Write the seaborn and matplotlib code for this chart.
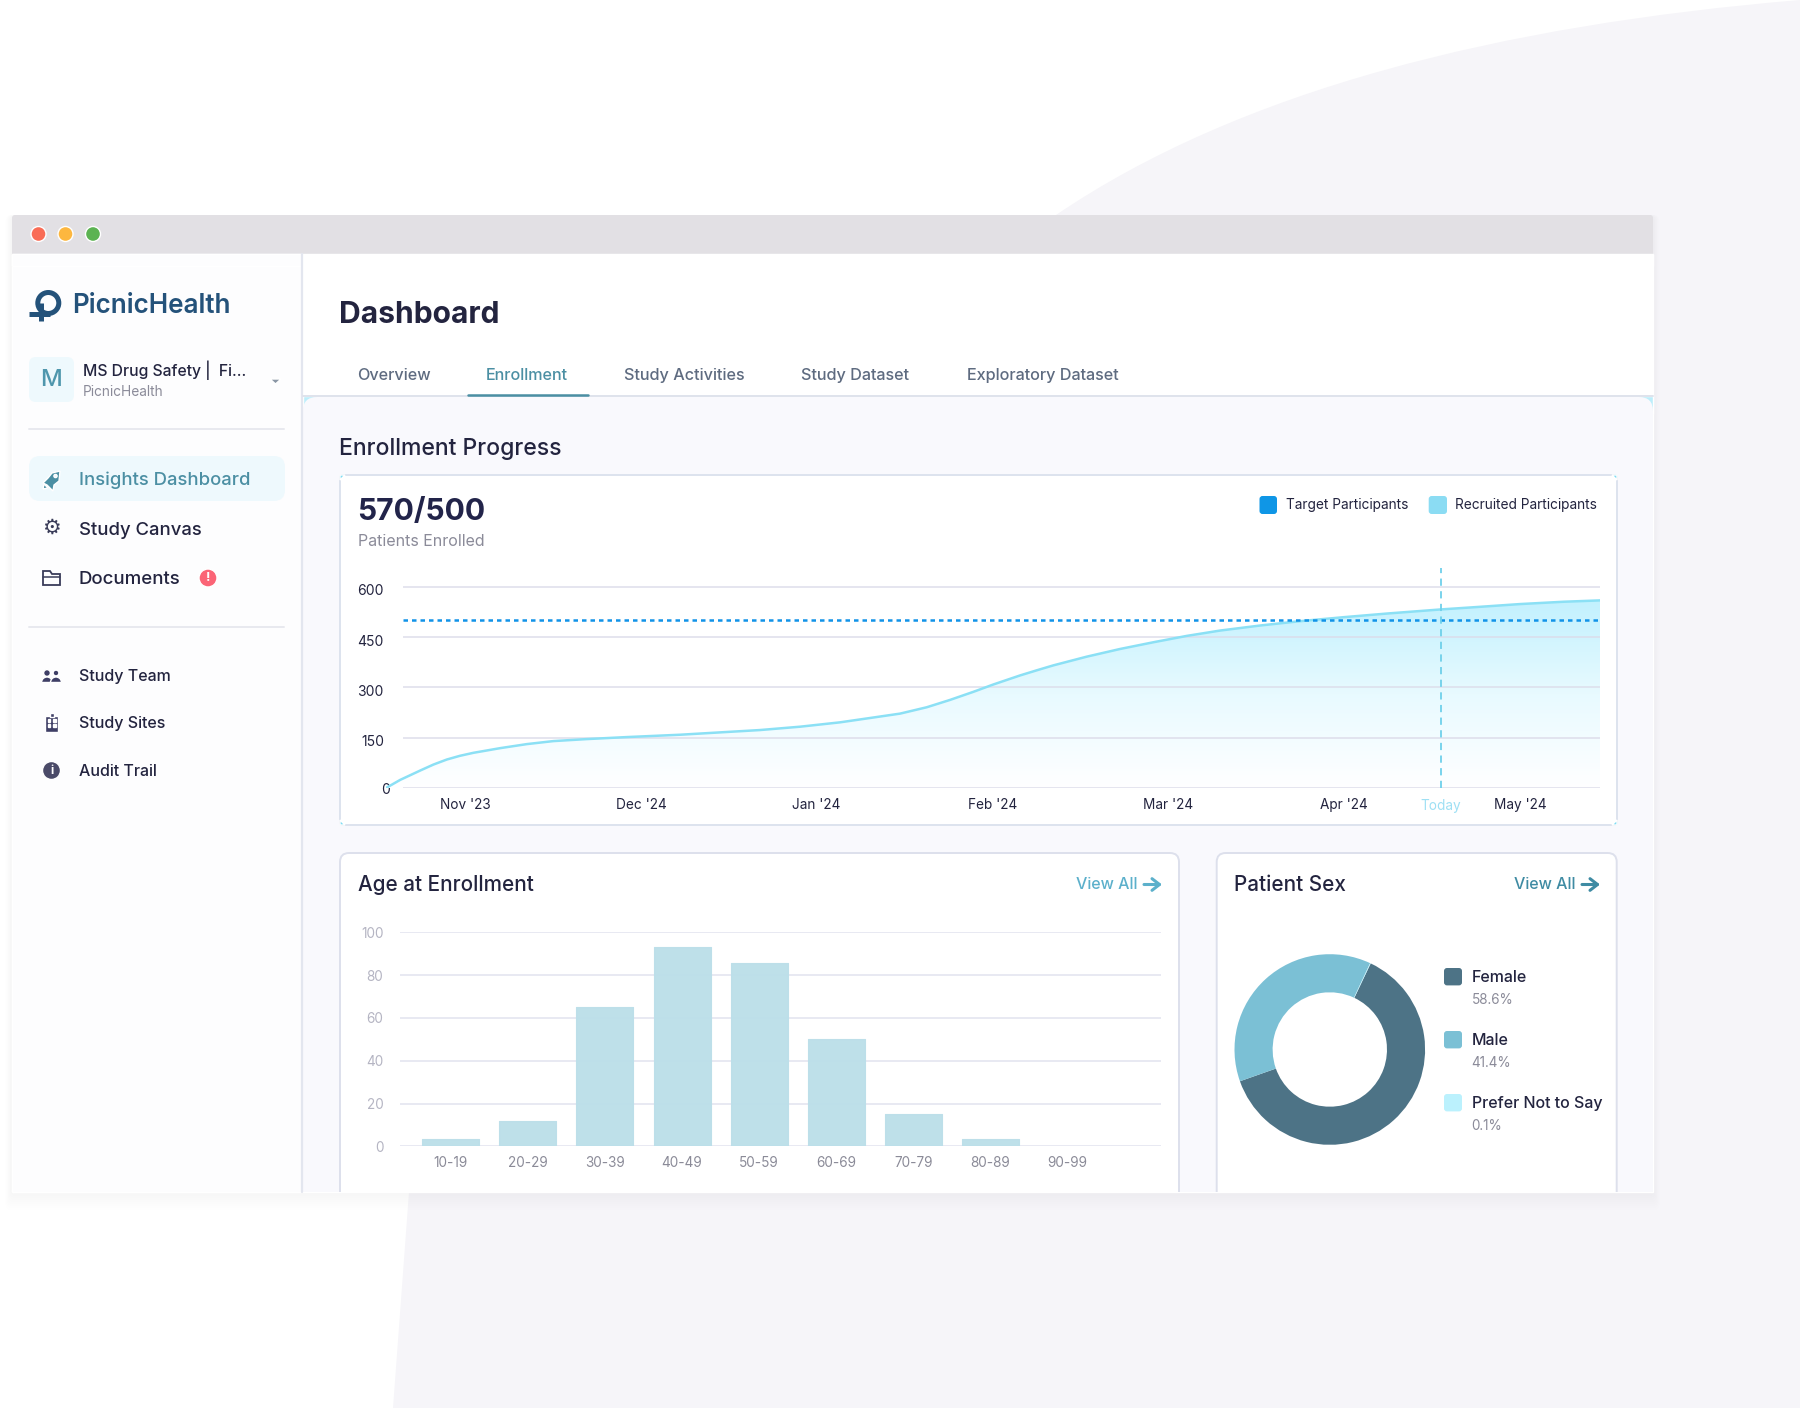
import numpy as np
import matplotlib
matplotlib.use("Agg")
import matplotlib.pyplot as plt
import seaborn as sns
from matplotlib.colors import LinearSegmentedColormap
from matplotlib.patches import Circle, FancyBboxPatch, PathPatch, Polygon, Rectangle, Wedge
from matplotlib.path import Path
from matplotlib.transforms import ScaledTranslation

# Enrollment curve (x in months from Nov '23)
month_pos = [-0.45, -0.37, -0.256, -0.18, -0.104, -0.03, 0.047, 0.2, 0.351, 0.502, 0.692, 0.92, 1.223, 1.45, 1.678,
             1.906, 2.133, 2.304, 2.474, 2.626, 2.759, 2.891, 3.005, 3.157, 3.25, 3.346, 3.536, 3.726, 3.915, 4.105,
             4.295, 4.522, 4.75, 5.0, 5.25, 5.55, 5.75, 6.0, 6.25, 6.456]
recruited = [0, 24, 52, 70, 85, 96, 105, 119, 131, 140, 146, 152, 159, 166, 173,
             183, 196, 209, 222, 241, 263, 287, 309, 336, 351, 366, 392, 415, 435, 454,
             470, 485, 498, 510, 521, 533, 540, 549, 556, 560]
target = 500
today_pos = 5.55
month_labels = ["Nov '23", "Dec '24", "Jan '24", "Feb '24", "Mar '24", "Apr '24", "May '24"]
enroll_ticks = [0, 150, 300, 450, 600]

# Age bars
age_groups = ["10-19", "20-29", "30-39", "40-49", "50-59", "60-69", "70-79", "80-89", "90-99"]
age_counts = [3.5, 12, 65, 93, 85.6, 50, 15, 3.5, 0]
age_ticks = [0, 20, 40, 60, 80, 100]

# Donut: arcs as measured in the picture, they differ from the printed percentages
sex_names = ["Female", "Male", "Prefer Not to Say"]
sex_printed = ["58.6%", "41.4%", "0.1%"]
sex_arcs = [62.6, 37.4, 0.1]
sex_colors = ["#4d7386", "#7bc0d5", "#bbf1fd"]

W, H = 1800, 1408
NAVY = "#23243f"
TEAL = "#4b8fa3"
GREY = "#8b8b99"
WIN_BOTTOM = 1192

sns.set_theme(style="white")
plt.rcParams["font.family"] = ["Inter", "DejaVu Sans"]

fig = plt.figure(figsize=(18, 14.08), dpi=100, facecolor="white")

# Pixel canvas for everything around the charts
bg = fig.add_axes([0, 0, 1, 1], zorder=0)
bg.set_xlim(0, W)
bg.set_ylim(H, 0)
bg.axis("off")


def px_axes(left, top, right, bottom):
    ax = fig.add_axes([left / W, 1 - bottom / H, (right - left) / W, (bottom - top) / H], zorder=2)
    ax.patch.set_alpha(0)
    return ax


def label(x, y, s, px, color=NAVY, weight="normal", ha="left"):
    # va=center sits a little high with Inter, push it down with the size
    return bg.text(x, y + px * 0.1, s, fontsize=px * 0.72, color=color, fontweight=weight, ha=ha, va="center")


def box(x0, y0, x1, y1, radius, color, edge="none", lw=0, z=1, clip=None):
    patch = FancyBboxPatch((x0, y0), x1 - x0, y1 - y0, boxstyle=f"round,pad=0,rounding_size={radius}",
                           facecolor=color, edgecolor=edge, linewidth=lw, zorder=z)
    bg.add_patch(patch)
    if clip is not None:
        patch.set_clip_path(clip)
    return patch


def shift_label(lab, dx, dy):
    lab.set_transform(lab.get_transform() + ScaledTranslation(dx / 100, dy / 100, fig.dpi_scale_trans))


# Lavender shape behind the window
blob = Path([(1800, 0), (1500, 25), (1240, 90), (1056, 215), (409, WIN_BOTTOM), (393, 1408), (1800, 1408), (1800, 0)],
            [Path.MOVETO, Path.CURVE4, Path.CURVE4, Path.CURVE4, Path.LINETO, Path.LINETO, Path.LINETO, Path.CLOSEPOLY])
bg.add_patch(PathPatch(blob, facecolor="#f6f5f9", edgecolor="none", zorder=0.1))

# Soft window shadow
for grow in range(18, 0, -2):
    box(12 - grow * 0.35, 215, 1653 + grow * 0.35, WIN_BOTTOM + grow, 6, "#8a8a9a", z=0.2).set_alpha(0.009)

# Window, title bar, sidebar
window = Rectangle((12, 215), 1641, WIN_BOTTOM - 215, transform=bg.transData)
bg.add_patch(Rectangle((12, 254), 1641, WIN_BOTTOM - 254, facecolor="white", zorder=0.5))
bg.add_patch(Rectangle((12, 254), 290, WIN_BOTTOM - 254, facecolor="#fdfdfe", zorder=0.55))
box(12, 215, 1653, 262, 3, "#e2e0e4", z=0.6)
bg.add_patch(Rectangle((12, 254), 1641, 12, facecolor="white", zorder=0.61))
bg.add_patch(Rectangle((12, 254), 290, 12, facecolor="#fdfdfe", zorder=0.62))
for cx, col in zip([38.5, 65.5, 93], ["#f96c56", "#fdb73f", "#5cb352"]):
    bg.add_patch(Circle((cx, 234), 7.5, facecolor=col, zorder=1))
bg.plot([302, 302], [254, WIN_BOTTOM], color="#e3e6ef", lw=1.6, zorder=1)

# Content panel with its cyan corners
bg.add_patch(Rectangle((303, 396), 18, 18, facecolor="#bdeefb", zorder=0.7))
bg.add_patch(Rectangle((1635, 396), 18, 18, facecolor="#bdeefb", zorder=0.7))
box(303, 397, 1653, 1240, 14, "#f9f9fd", z=0.8, clip=window)
bg.plot([303, 1653], [396, 396], color="#dfe3ec", lw=1.4, zorder=1)

# Logo
bg.add_patch(Circle((48.3, 303), 10.5, facecolor="none", edgecolor="#24527a", lw=3.6, zorder=2))
bg.plot([40.5, 40.5], [303, 320.5], color="#24527a", lw=3.6, zorder=2, solid_capstyle="butt")
bg.plot([29, 50], [313.5, 313.5], color="#24527a", lw=3.6, zorder=2, solid_capstyle="butt")
label(72.5, 303, "PicnicHealth", 26, "#24527a", "semibold")

# Study selector
box(29, 357, 74, 402, 7, "#eef9fd", z=1)
label(51.5, 378, "M", 24, "#4f97ad", "medium", ha="center")
label(83, 368.5, "MS Drug Safety |  Fi...", 15.7, NAVY, "medium")
label(83, 391, "PicnicHealth", 13.7, GREY)
bg.add_patch(Polygon([(270, 379), (281, 379), (275.5, 384)], facecolor="#8a96a5", zorder=2))
bg.plot([29, 284], [429, 429], color="#e8e9ef", lw=1.4, zorder=1)

# Navigation
box(29, 456, 285, 501, 11, "#eef9fd", z=1)
label(79, 478.5, "Insights Dashboard", 18.5, TEAL, "medium")
label(79, 528.5, "Study Canvas", 18.5, NAVY, "medium")
label(79, 578, "Documents", 18.7, NAVY, "medium")
label(79, 675, "Study Team", 16, NAVY, "medium")
label(79, 722, "Study Sites", 16, NAVY, "medium")
label(79, 770, "Audit Trail", 16, NAVY, "medium")
bg.plot([29, 284], [627, 627], color="#e8e9ef", lw=1.4, zorder=1)

# Rough icons
bg.add_patch(Polygon([(60, 471), (59, 481), (54, 485), (53, 491), (49, 487), (47, 485), (43, 483), (48, 478), (52, 473)],
                     facecolor=TEAL, zorder=2))
bg.add_patch(Polygon([(44, 484), (48, 488), (43, 489)], facecolor=TEAL, zorder=2))
bg.add_patch(Circle((55.5, 476), 1.6, facecolor="#eef9fd", zorder=3))
bg.text(51.5, 528, "\u2699", fontsize=15, color="#3a3c59", ha="center", va="center", family="DejaVu Sans", zorder=2)
bg.add_patch(Polygon([(43, 571), (50, 571), (52, 574), (60, 574), (60, 585), (43, 585)],
                     facecolor="none", edgecolor="#3a3c59", lw=1.3, zorder=2))
bg.plot([43, 60], [577, 577], color="#3a3c59", lw=1.1, zorder=2)
bg.add_patch(Circle((208, 578), 9, facecolor="#fb6476", zorder=2))
label(208, 577, "!", 13, "white", "bold", ha="center").set_zorder(3)
for cx, r in [(47, 3.4), (56, 2.9)]:
    bg.add_patch(Circle((cx, 673), r, facecolor="#3f3f66", zorder=2))
    bg.add_patch(Wedge((cx, 682.5), 5.5, 180, 360, facecolor="#3f3f66", zorder=2))
bg.add_patch(Rectangle((45, 716), 13, 16, facecolor="#3f3f66", zorder=2))
bg.add_patch(Rectangle((49.5, 713), 4, 4, facecolor="#3f3f66", zorder=2))
for wx in [47.5, 53]:
    for wy in [719, 724]:
        bg.add_patch(Rectangle((wx, wy), 2.6, 2.6, facecolor="white", zorder=3))
bg.add_patch(Circle((51.5, 770.5), 9, facecolor="#4a4a68", zorder=2))
label(51.5, 769.5, "i", 12, "white", "bold", ha="center").set_zorder(3)

# Header and tabs
label(339, 312, "Dashboard", 30, NAVY, "bold")
tab_x = [357, 486, 624.5, 801, 966.6]
tab_names = ["Overview", "Enrollment", "Study Activities", "Study Dataset", "Exploratory Dataset"]
for tx, name in zip(tab_x, tab_names):
    label(tx, 374, name, 16.2, TEAL if name == "Enrollment" else "#5e6b80", "medium")
bg.plot([468, 588], [395, 395], color=TEAL, lw=1.8, zorder=2)
label(339, 446.5, "Enrollment Progress", 23, NAVY, "medium")

# Cards
for cx, cy in [(340, 475), (1617, 475), (340, 825), (1617, 825)]:
    sx = 5 if cx == 340 else -5
    sy = 5 if cy == 475 else -5
    bg.add_patch(Polygon([(cx, cy), (cx + sx, cy), (cx, cy + sy)], facecolor="#7fdcf3", zorder=1.2))
box(340, 475, 1617, 825, 2, "white", "#dde3ee", 1.4, z=1)
box(340, 853, 1179, 1240, 9, "white", "#dde0ec", 1.4, z=1, clip=window)
box(1216.7, 853, 1616.7, 1240, 9, "white", "#dde0ec", 1.4, z=1, clip=window)

# Enrollment card header and legend
label(357.5, 509, "570/500", 30, "#22244a", "bold")
label(357.5, 540, "Patients Enrolled", 16, GREY)
box(1259.5, 496, 1277, 514, 3, "#0f96e6", z=2)
label(1286, 504, "Target Participants", 13.7, NAVY)
box(1428.7, 496, 1447, 514, 3, "#8bdcf3", z=2)
label(1455, 504, "Recruited Participants", 13.7, NAVY)

# Enrollment chart
px_per_month = 175.8
ax1 = px_axes(386, 568, 1600, 788)
xlim1 = (-0.45, 6.456)
ylim1 = (0, 656.7)
grid_start = xlim1[0] + 17 / px_per_month
gradient = LinearSegmentedColormap.from_list("fill", ["#ffffff", "#e8faff", "#c2f1fe"])
im = ax1.imshow(np.linspace(1, 0, 256).reshape(-1, 1), extent=[xlim1[0], xlim1[1], 0, 560], aspect="auto",
                cmap=gradient, zorder=1)
band = ax1.fill_between(month_pos, 0, recruited, color="none")
im.set_clip_path(band.get_paths()[0], transform=ax1.transData)
ax1.hlines(enroll_ticks, grid_start, xlim1[1], color="#dcdcea", lw=1.3, alpha=0.8, zorder=2)
sns.lineplot(x=month_pos, y=recruited, color="#8be0f5", lw=1.8, errorbar=None, ax=ax1, zorder=3)
ax1.hlines(target, grid_start, xlim1[1], color="#1193e8", lw=1.8, linestyles=(0, (1.8, 1.6)), zorder=4)
ax1.vlines(today_pos, 0, ylim1[1], color="#6fd0ea", lw=1.3, linestyles=(0, (4, 3)), zorder=4)
ax1.set_xlim(*xlim1)
ax1.set_ylim(*ylim1)
ax1.set_xticks(list(range(len(month_labels))) + [today_pos])
ax1.set_xticklabels(month_labels + ["Today"], fontsize=9.8)
ax1.set_yticks(enroll_ticks)
ax1.set_yticklabels(enroll_ticks, fontsize=10)
ax1.tick_params(axis="both", length=0, colors=NAVY)
ax1.tick_params(axis="x", pad=7)
ax1.tick_params(axis="y", pad=1.5)
ax1.get_xticklabels()[-1].set_color("#9fe0f4")
shift_label(ax1.get_xticklabels()[-1], 0, -1)
for i, lab in enumerate(ax1.get_yticklabels()):
    if i == 0:
        shift_label(lab, 6, -1)
    else:
        shift_label(lab, 0, -3)
sns.despine(ax=ax1, left=True, bottom=True)

# Age card
label(358.5, 882.5, "Age at Enrollment", 20.7, NAVY, "medium")
label(1076, 883, "View All", 16, "#5cb0cb", "medium")
bg.annotate("", xy=(1162, 884.5), xytext=(1144, 884.5), zorder=3,
            arrowprops=dict(arrowstyle="->,head_width=0.35,head_length=0.45", color="#5cb0cb", lw=2.2, shrinkA=0, shrinkB=0))

ax2 = px_axes(400, 932.3, 1161, 1146.3)
ax2.hlines(age_ticks, -0.657, 9.21, color="#e6e7f1", lw=1.3, zorder=0)
sns.barplot(x=age_groups, y=age_counts, color="#bcdfe9", width=0.74, saturation=1, ax=ax2, zorder=2)
for bar, count in zip(ax2.patches, age_counts):
    bar.set_edgecolor("#bcdfe9")
    bar.set_linewidth(0.8 if count > 0 else 0)
    bar.set_joinstyle("round")
    bar.set_alpha(0.96)
ax2.set_xlim(-0.657, 9.21)
ax2.set_ylim(0, 100)
ax2.set_yticks(age_ticks)
ax2.set_yticklabels(age_ticks, fontsize=9.8, color="#b5b5c3")
ax2.set_xticks(range(len(age_groups)))
ax2.set_xticklabels(age_groups, fontsize=9.8, color="#8b8b98")
ax2.tick_params(axis="x", length=0, pad=7)
ax2.tick_params(axis="y", length=0, pad=12)
sns.despine(ax=ax2, left=True, bottom=True)

# Sex card
label(1234.5, 882.5, "Patient Sex", 20.7, NAVY, "medium")
label(1514, 883, "View All", 16, "#3f8ba3", "medium")
bg.annotate("", xy=(1600, 884.5), xytext=(1582, 884.5), zorder=3,
            arrowprops=dict(arrowstyle="->,head_width=0.35,head_length=0.45", color="#3f8ba3", lw=2.2, shrinkA=0, shrinkB=0))

ax3 = px_axes(1329.8 - 95.3, 1049.5 - 95.3, 1329.8 + 95.3, 1049.5 + 95.3)
ax3.pie(sex_arcs, colors=sex_colors, startangle=64.6, counterclock=False, radius=1,
        wedgeprops=dict(width=0.4, linewidth=0))
ax3.set_xlim(-1, 1)
ax3.set_ylim(-1, 1)

for name, pct, col, row_y in zip(sex_names, sex_printed, sex_colors, [976.7, 1039.7, 1102.7]):
    box(1444, row_y - 8.7, 1462, row_y + 8.7, 3, col, z=2)
    label(1471.7, row_y - 0.5, name, 16, NAVY, "medium")
    label(1471.7, row_y + 21.5, pct, 13.5, GREY)

fig.savefig("out.png", dpi=100, facecolor="white")
